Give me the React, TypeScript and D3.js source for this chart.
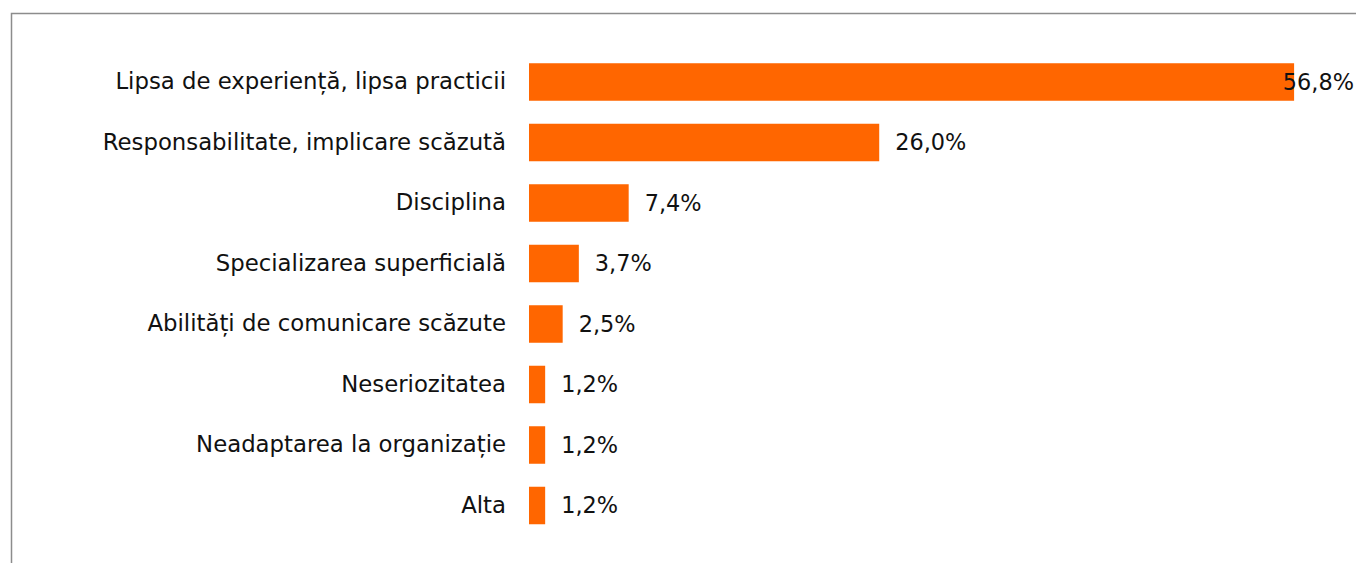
import React, { useEffect, useRef } from "react";
import * as d3 from "d3";

const categories = [
  "Lipsa de experiență, lipsa practicii",
  "Responsabilitate, implicare scăzută",
  "Disciplina",
  "Specializarea superficială",
  "Abilități de comunicare scăzute",
  "Neseriozitatea",
  "Neadaptarea la organizație",
  "Alta",
];
const values = [56.8, 26.0, 7.4, 3.7, 2.5, 1.2, 1.2, 1.2];
const valueLabels = ["56,8%", "26,0%", "7,4%", "3,7%", "2,5%", "1,2%", "1,2%", "1,2%"];

const W = 1356;
const H = 563;

export default function App() {
  const ref = useRef<SVGSVGElement>(null);

  useEffect(() => {
    const svg = d3.select(ref.current);
    svg.selectAll("*").remove();

    const font = "'DejaVu Sans', sans-serif";

    svg
      .append("rect")
      .attr("x", 11.5)
      .attr("y", 13.5)
      .attr("width", W + 20)
      .attr("height", H + 20)
      .attr("fill", "none")
      .attr("stroke", "#8c8c8c")
      .attr("stroke-width", 1.5);

    const y = d3
      .scaleBand<string>()
      .domain(categories)
      .range([51.75, 535.75])
      .paddingInner(0.38)
      .paddingOuter(0.19);

    const x = d3.scaleLinear().domain([0, 60]).range([529, 1337.2]);

    const g = svg.append("g");

    g.selectAll("rect.bar")
      .data(values)
      .enter()
      .append("rect")
      .attr("class", "bar")
      .attr("x", x(0))
      .attr("y", (_, i) => y(categories[i])!)
      .attr("width", (d) => x(d) - x(0))
      .attr("height", y.bandwidth())
      .attr("fill", "#FF6600");

    g.selectAll("text.cat")
      .data(categories)
      .enter()
      .append("text")
      .attr("class", "cat")
      .attr("x", 506)
      .attr("y", (d) => y(d)! + y.bandwidth() / 2)
      .attr("dy", "0.32em")
      .attr("text-anchor", "end")
      .attr("font-family", font)
      .attr("font-size", 22.8)
      .attr("fill", "#111")
      .text((d) => d);

    const labels = g
      .selectAll("text.val")
      .data(values)
      .enter()
      .append("text")
      .attr("class", "val")
      .attr("y", (_, i) => y(categories[i])! + y.bandwidth() / 2)
      .attr("dy", "0.35em")
      .attr("font-family", font)
      .attr("font-size", 22.4)
      .attr("fill", "#111")
      .text((_, i) => valueLabels[i]);

    labels.each(function (d) {
      const el = this as SVGTextElement;
      const w = el.getComputedTextLength();
      let lx = x(d) + 16;
      if (lx + w > W - 2) lx = W - 2 - w;
      d3.select(el).attr("x", lx);
    });
  }, []);

  return (
    <svg
      ref={ref}
      width={W}
      height={H}
      style={{ position: "absolute", left: 0, top: 0, background: "#fff" }}
    />
  );
}
